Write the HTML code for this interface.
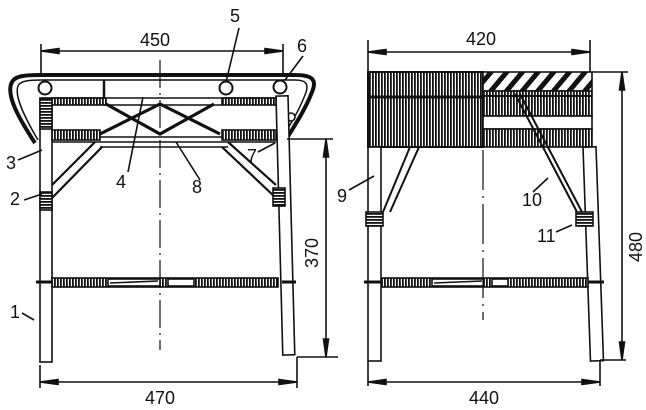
<!DOCTYPE html>
<html><head><meta charset="utf-8"><style>
html,body{margin:0;padding:0;background:#fff;}
svg{display:block;}
text{font-family:"Liberation Sans",sans-serif;font-size:18px;fill:#111;}
</style></head><body>
<svg width="646" height="410" viewBox="0 0 646 410" xmlns="http://www.w3.org/2000/svg">
<defs>
<pattern id="vh" width="3" height="10" patternUnits="userSpaceOnUse"><rect width="3" height="10" fill="#fff"/><rect width="1.8" height="10" fill="#111"/></pattern>
<pattern id="hh" width="10" height="3" patternUnits="userSpaceOnUse"><rect width="10" height="3" fill="#fff"/><rect width="10" height="1.8" fill="#111"/></pattern>
<pattern id="dh" width="12" height="12" patternUnits="userSpaceOnUse" patternTransform="rotate(40)"><rect width="12" height="12" fill="#fff"/><rect width="5" height="12" fill="#111"/></pattern>
</defs>
<g stroke="#111" fill="none" stroke-width="1.6">
<!-- LEFT VIEW -->
<line x1="41" y1="44" x2="41" y2="76"/><line x1="283" y1="44" x2="283" y2="76"/>
<line x1="41" y1="51" x2="283" y2="51"/>
<path d="M41 51 l18 -2.5 v5z M283 51 l-18 -2.5 v5z" fill="#111"/>
<path d="M35 143 C 20 120, 5 95, 12 82 C 15 76, 25 75, 40 75 L 295 75 C 310 75, 318 78, 312 92 C 305 110, 295 125, 287 138" stroke-width="4"/>
<path d="M38 140 C 25 118, 14 96, 18 86 C 20 81, 28 80, 42 80 L 295 80 C 305 80, 310 83, 305 95 C 300 108, 292 122, 285 133" stroke-width="1.5"/>
<circle cx="45" cy="88" r="6.5" fill="#fff" stroke-width="2"/>
<circle cx="226" cy="88" r="6.5" fill="#fff" stroke-width="2"/>
<circle cx="280" cy="87" r="6.5" fill="#fff" stroke-width="2"/>
<circle cx="291" cy="117" r="4" fill="#fff"/>
<line x1="104" y1="80" x2="104" y2="99" stroke-width="2.5"/>
<!-- legs -->
<rect x="40" y="98" width="12" height="264" fill="#fff"/>
<rect x="276" y="96" width="12" height="259" fill="#fff" transform="rotate(-1.5 282 96)"/>
<rect x="40" y="99" width="12" height="30" fill="url(#hh)"/>
<!-- rails -->
<rect x="52" y="98" width="54" height="7" fill="url(#vh)"/>
<rect x="222" y="98" width="54" height="7" fill="url(#vh)"/>
<line x1="52" y1="98" x2="276" y2="98"/>
<line x1="104" y1="105" x2="222" y2="105"/>
<rect x="52" y="130" width="48" height="10" fill="url(#vh)"/>
<rect x="222" y="130" width="54" height="10" fill="url(#vh)"/>
<line x1="100" y1="137" x2="222" y2="137"/>
<line x1="52" y1="142" x2="276" y2="142"/>
<line x1="100" y1="147" x2="228" y2="147"/>
<!-- cross W/M -->
<path d="M106 104 L160 134 L214 104 M100 134 L160 104 L220 134" stroke-width="3.2"/>
<!-- diagonal struts -->
<path d="M52 185 L95 142 M52 198 L102 147 M276 185 L228 142 M276 198 L222 147" stroke-width="2.2"/>
<rect x="40" y="192" width="12" height="18" fill="url(#hh)"/>
<rect x="273" y="188" width="12" height="18" fill="url(#hh)"/>
<!-- bottom stretcher -->
<rect x="52" y="278" width="226" height="9" fill="url(#vh)"/>
<rect x="108" y="279" width="52" height="7" fill="#fff"/>
<line x1="110" y1="283" x2="158" y2="281"/>
<rect x="168" y="279" width="26" height="7" fill="#fff"/>
<line x1="36" y1="282" x2="52" y2="282" stroke-width="3"/><line x1="282" y1="282" x2="296" y2="282" stroke-width="3"/>
<path d="M160 60 V350" stroke-dasharray="28 5 2 5" stroke-width="1.2"/>
<!-- dim 370 -->
<line x1="287" y1="139" x2="333" y2="139"/><line x1="297" y1="357" x2="338" y2="357"/>
<line x1="326" y1="139" x2="326" y2="357"/>
<path d="M326 139 l-2.5 18 h5z M326 357 l-2.5 -18 h5z" fill="#111"/>
<!-- dim 470 -->
<line x1="40" y1="365" x2="40" y2="388"/><line x1="297" y1="357" x2="297" y2="388"/>
<line x1="40" y1="382" x2="297" y2="382"/>
<path d="M40 382 l18 -2.5 v5z M297 382 l-18 -2.5 v5z" fill="#111"/>
<path d="M22 313 L34 320 M24 200 L42 194 M18 160 L42 150 M128 172 L143 97 M200 180 L176 142 M258 152 L275 143 M239 28 L226 82 M303 56 L285 80"/>

<!-- RIGHT VIEW -->
<line x1="368" y1="40" x2="368" y2="72"/><line x1="590" y1="40" x2="590" y2="72"/>
<line x1="368" y1="52" x2="590" y2="52"/>
<path d="M368 52 l18 -2.5 v5z M590 52 l-18 -2.5 v5z" fill="#111"/>
<rect x="368" y="72" width="115" height="75" fill="url(#vh)" stroke-width="2"/>
<line x1="368" y1="97" x2="483" y2="97" stroke-width="3"/>
<rect x="483" y="72" width="109" height="19" fill="url(#dh)"/>
<rect x="483" y="91" width="109" height="25" fill="url(#vh)"/>
<rect x="483" y="116" width="109" height="13" fill="#fff"/>
<rect x="483" y="129" width="109" height="18" fill="url(#vh)"/>
<line x1="483" y1="96" x2="592" y2="96" stroke-width="2"/>
<rect x="368" y="147" width="13" height="214" fill="#fff"/>
<rect x="583" y="147" width="13" height="214" fill="#fff" transform="rotate(-2 589 147)"/>
<rect x="366" y="212" width="17" height="14" fill="url(#hh)"/>
<rect x="576" y="212" width="17" height="14" fill="url(#hh)"/>
<path d="M410 147 L383 212 M419 147 L390 212" stroke-width="2"/>
<path d="M515 94 L577 212 M520 94 L582 212" stroke-width="2"/>
<rect x="382" y="278" width="206" height="9" fill="url(#vh)"/>
<rect x="432" y="279" width="52" height="7" fill="#fff"/>
<line x1="434" y1="283" x2="482" y2="281"/>
<rect x="492" y="279" width="16" height="7" fill="#fff"/>
<line x1="364" y1="282" x2="382" y2="282" stroke-width="3"/><line x1="588" y1="282" x2="604" y2="282" stroke-width="3"/>
<path d="M483 150 V320" stroke-dasharray="40 6 2 6" stroke-width="1.2"/>
<line x1="592" y1="72" x2="628" y2="72"/><line x1="600" y1="360" x2="626" y2="360"/>
<line x1="622" y1="72" x2="622" y2="360"/>
<path d="M622 72 l-2.5 18 h5z M622 360 l-2.5 -18 h5z" fill="#111"/>
<line x1="368" y1="361" x2="368" y2="386"/><line x1="600" y1="360" x2="600" y2="386"/>
<line x1="368" y1="382" x2="600" y2="382"/>
<path d="M368 382 l18 -2.5 v5z M600 382 l-18 -2.5 v5z" fill="#111"/>
<path d="M349 190 L374 176 M533 192 L548 178 M556 232 L572 225"/>
</g>
<text x="140" y="46">450</text>
<text x="230" y="22">5</text>
<text x="297" y="52">6</text>
<text x="6" y="169">3</text>
<text x="10" y="205">2</text>
<text x="116" y="188">4</text>
<text x="192" y="193">8</text>
<text x="247" y="162">7</text>
<text x="10" y="318">1</text>
<text x="145" y="404">470</text>
<text transform="translate(318 268) rotate(-90)">370</text>
<text x="466" y="45">420</text>
<text x="337" y="202">9</text>
<text x="522" y="206">10</text>
<text x="537" y="242">11</text>
<text x="469" y="404">440</text>
<text transform="translate(642 262) rotate(-90)">480</text>
</svg>
</body></html>
